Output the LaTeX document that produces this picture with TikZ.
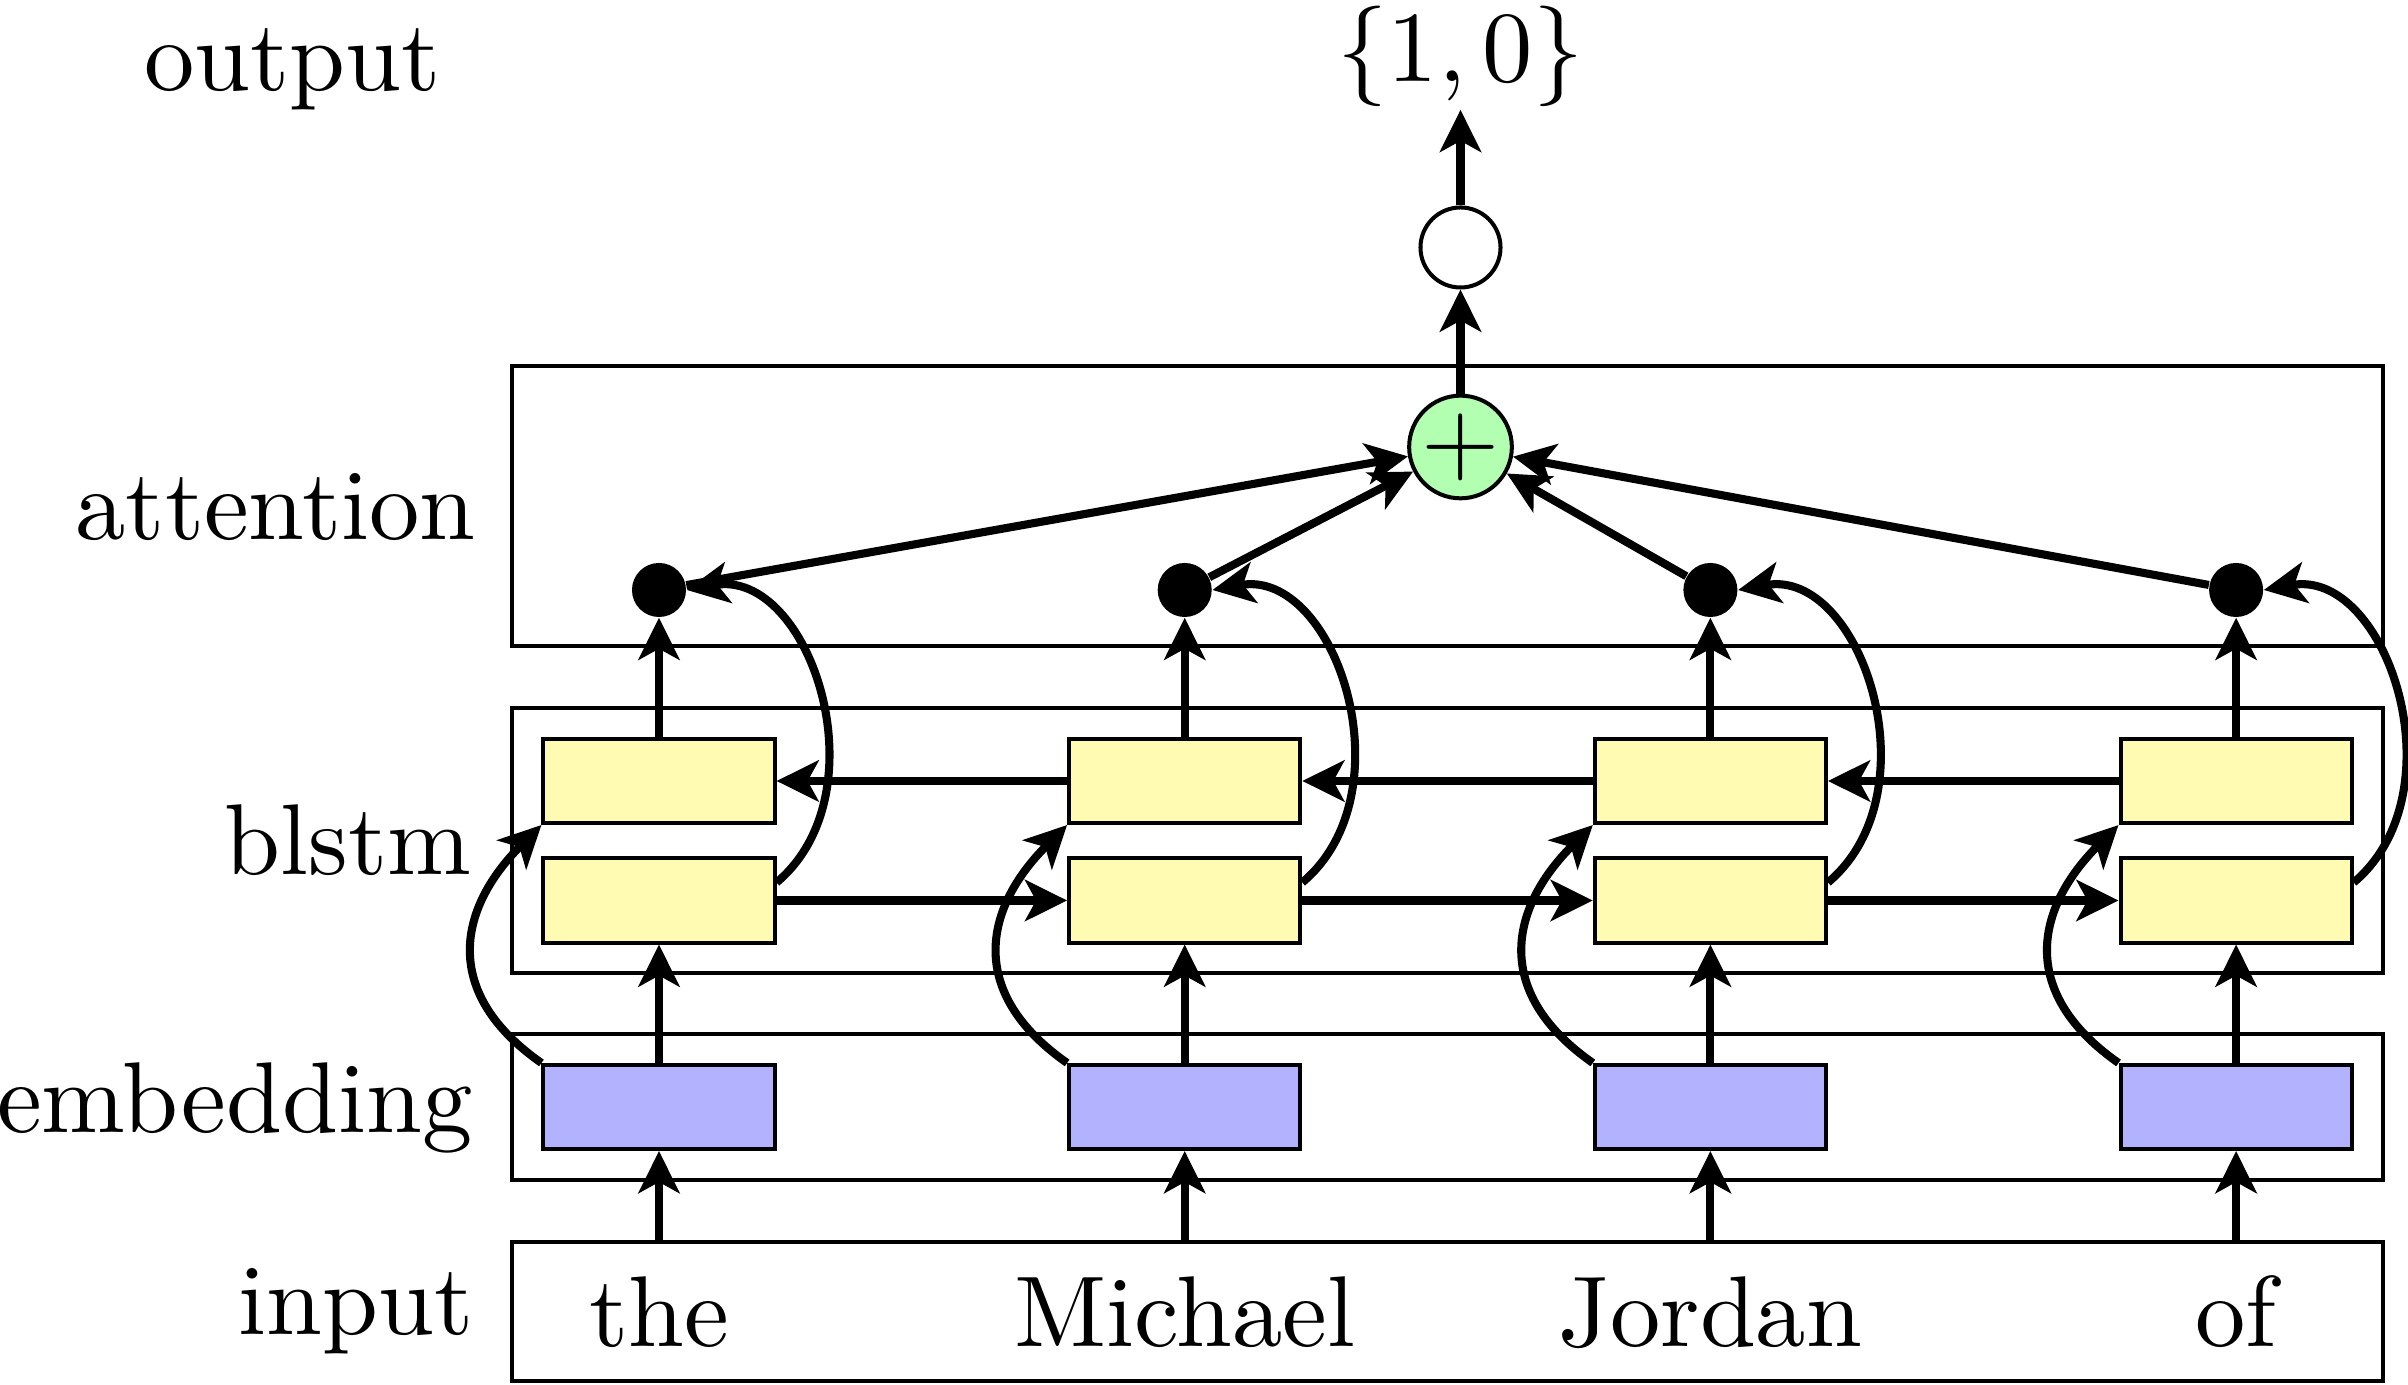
\documentclass[tikz,border=0pt]{standalone}
\usepackage{graphicx}
\usetikzlibrary{arrows.meta}
\newcommand{\bigtxt}[1]{\scalebox{2.86}{#1}}
\begin{document}
\begin{tikzpicture}[x=0.01cm, y=0.01cm,
  conn/.style={line width=2.3pt, -{Stealth[length=4.2mm,width=4.1mm,inset=1.1mm]}},
  layer/.style={draw, line width=1.14pt, minimum width=18.69cm, inner sep=0},
  cell/.style={draw, line width=1.14pt, minimum width=2.31cm, minimum height=0.84cm, inner sep=0},
  fwd/.style={cell, fill=yellow!30},
  emb/.style={cell, fill=blue!30},
  dotn/.style={circle, fill=black, minimum size=0.54cm, inner sep=0},
  lbl/.style={anchor=base east, inner sep=0},
  word/.style={anchor=base, inner sep=0},
  ring/.style={circle, draw, line width=1.14pt, inner sep=0},
]
\useasboundingbox (0,0) rectangle (2408,1385);

% layer boxes
\node[layer, minimum height=2.80cm] (att) at (1447.5,879) {};
\node[layer, minimum height=2.65cm] (blstm) at (1447.5,544.5) {};
\node[layer, minimum height=1.46cm] (embl) at (1447.5,278) {};
\node[layer, minimum height=1.39cm] (inp) at (1447.5,73.5) {};

% labels
\node[lbl] (lout) at (441,1294) {\bigtxt{output}};
\node[lbl] (latt) at (476,845) {\bigtxt{attention}};
\node[lbl] (lbls) at (472,510) {\bigtxt{blstm}};
\node[lbl] (lemb) at (473,252) {\bigtxt{embedding}};
\node[lbl] (linp) at (474,50) {\bigtxt{input}};

% columns
\foreach \i/\x/\w in {1/659/the, 2/1184.7/Michael, 3/1710.4/Jordan, 4/2236.1/of} {
  \node[word] (w\i) at (\x,38) {\bigtxt{\w}};
  \node[emb] (e\i) at (\x,278) {};
  \node[fwd] (f\i) at (\x,484.5) {};
  \node[fwd] (b\i) at (\x,604) {};
  \node[dotn] (d\i) at (\x,795) {};
}

% top
\node[ring, fill=green!30, minimum size=1.02cm] (sum) at (1460.5,938) {\bigtxt{$+$}};
\node[ring, fill=white, minimum size=0.80cm] (outc) at (1460.5,1137.5) {};
\node[anchor=base, inner sep=0.02cm] (res) at (1460.5,1303) {\bigtxt{$\{1,0\}$}};

\draw[conn] (sum) -- (outc);
\draw[conn] (outc) -- (res);

\foreach \i in {1,...,4} {
  \draw[conn] (w\i |- inp.north) -- (e\i);
  \draw[conn] (e\i) -- (f\i);
  \draw[conn] (b\i) -- (d\i);
  \draw[conn] (d\i) -- (sum);
  \draw[conn] (e\i.north west) to[out=145,in=225,looseness=1.3] (b\i.south west);
  \draw[conn] ([yshift=0.18cm]f\i.east) to[out=40,in=10,out distance=1.4cm,in distance=1.25cm] (d\i.east);
}
\foreach \i/\j in {1/2,2/3,3/4} {
  \draw[conn] (f\i) -- (f\j);
  \draw[conn] (b\j) -- (b\i);
}
\end{tikzpicture}
\end{document}
